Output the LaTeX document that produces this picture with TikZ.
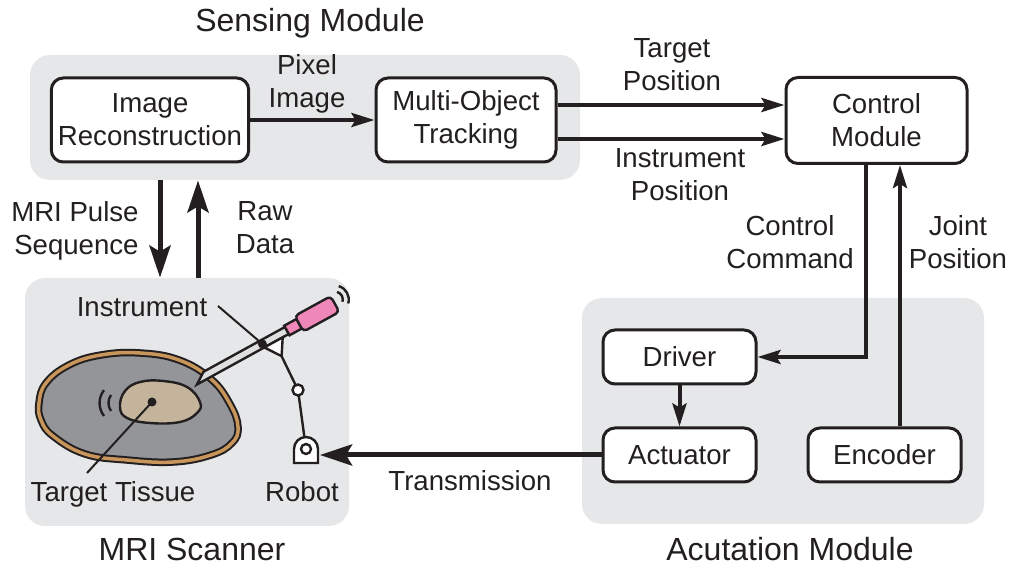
\documentclass[tikz,border=0pt]{standalone}
\usepackage{fontspec}
\setmainfont{Liberation Sans}
\usetikzlibrary{arrows.meta}

\definecolor{panelgray}{RGB}{230,231,232}
\definecolor{ink}{RGB}{35,31,32}
\definecolor{tissuegray}{RGB}{147,149,152}
\definecolor{skintan}{RGB}{200,150,90}
\definecolor{targettan}{RGB}{196,180,155}
\definecolor{handlepink}{RGB}{240,135,185}

\begin{document}
\begin{tikzpicture}[
    x=0.5pt, y=-0.5pt,
    panel/.style={rectangle, rounded corners=10pt, fill=panelgray, inner sep=0pt},
    box/.style={rectangle, rounded corners=6pt, draw=ink, line width=1.5pt, fill=white,
                align=center, text=ink, font=\fontsize{13.8}{16.5}\selectfont},
    module/.style={font=\fontsize{16}{19}\selectfont, text=ink, anchor=base, inner sep=0pt},
    lbl/.style={font=\fontsize{13.8}{16.5}\selectfont, text=ink, align=center, inner sep=0pt},
    arrow/.style={-{Stealth[length=11.5pt, width=7pt, inset=2pt]}, draw=ink, line width=2pt},
    bigarrow/.style={-{Stealth[length=16pt, width=10.5pt, inset=3pt]}, draw=ink, line width=2.5pt},
    leader/.style={draw=ink, line width=1pt},
    part/.style={draw=ink, line width=1.2pt}
]
\useasboundingbox (0,0) rectangle (1009,567);

% Module panels
\node[panel, minimum width=275pt, minimum height=62.5pt] (sens) at (305,117.5) {};
\node[panel, minimum width=162pt, minimum height=124pt] (mri) at (187,402) {};
\node[panel, minimum width=201pt, minimum height=113pt] (act) at (783,411) {};

% Module titles
\node[module] (senstitle) at (310,32) {Sensing Module};
\node[module] (mrititle) at (192,560) {MRI Scanner};
\node[module] (acttitle) at (790,560) {Acutation Module};

% Blocks
\node[box, minimum width=97pt, minimum height=42pt] (imgrec) at (150,120) {Image\\Reconstruction};
\node[box, minimum width=90pt, minimum height=42pt] (mot) at (466,120) {Multi-Object\\Tracking};
\node[box, minimum width=90.5pt, minimum height=43pt] (ctrl) at (876.5,120.5) {Control\\Module};
\node[box, minimum width=76.5pt, minimum height=27pt] (driver) at (679.5,357) {Driver};
\node[box, minimum width=76.5pt, minimum height=27pt] (actuator) at (679.5,455) {Actuator};
\node[box, minimum width=76.5pt, minimum height=27pt] (enc) at (884.5,455) {Encoder};

% Connector labels
\node[lbl] (pixlbl) at (307,84) {Pixel\\Image};
\node[lbl] (tgtlbl) at (672,65) {Target\\Position};
\node[lbl] (instlbl) at (680,175) {Instrument\\Position};
\node[lbl, align=right, anchor=east] (pulselbl) at (139,230.5) {MRI Pulse\\Sequence};
\node[lbl] (rawlbl) at (265,228) {Raw\\Data};
\node[lbl] (cmdlbl) at (790,242) {Control\\Command};
\node[lbl] (jointlbl) at (958,242) {Joint\\Position};
\node[lbl] (translbl) at (470,481) {Transmission};

% Connectors
\coordinate (tgt) at ([yshift=7.5pt]mot.east);
\coordinate (inst) at ([yshift=-9.5pt]mot.east);
\coordinate (pulse) at ([xshift=-13.5pt]mri.north);
\coordinate (raw) at ([xshift=5.5pt]mri.north);
\coordinate (cmd) at ([xshift=-5.25pt]ctrl.south);
\coordinate (joint) at ([xshift=7.75pt]enc.north);
\coordinate (robot) at (320,455);

\draw[arrow] (imgrec) -- (mot);
\draw[arrow] (tgt) -- (tgt -| ctrl.west);
\draw[arrow] (inst) -- (inst -| ctrl.west);
\draw[bigarrow] (pulse |- sens.south) -- (pulse);
\draw[bigarrow] (raw) -- (raw |- sens.south);
\draw[arrow] (cmd) |- (driver.east);
\draw[arrow] (joint) -- (joint |- ctrl.south);
\draw[arrow] (driver) -- (actuator);
\draw[bigarrow] (actuator.west) -- (robot);

% Tissue with target
\draw[draw=ink, line width=3.75pt, fill=tissuegray,
      postaction={draw=skintan, line width=1.75pt}]
    plot[smooth cycle, tension=0.7] coordinates {(39,403) (46,383) (69,365) (101,355) (140,353)
        (179,360) (211,379) (230,404) (238,427) (232,443) (211,455) (173,462) (127,460)
        (85,454) (53,436) (41,420)};
\filldraw[fill=targettan, part]
    plot[smooth cycle, tension=0.7] coordinates {(120,407) (125,391) (140,382) (163,381)
        (187,387) (200,402) (197,413) (180,422) (150,423) (127,418)};
\draw[part] (104,416) arc[start angle=142, end angle=218, radius=21];
\draw[part] (111,411) arc[start angle=145, end angle=215, radius=14];

% Instrument held by the robot arm
\coordinate (tip) at (195,381);
\begin{scope}[shift={(tip)}, x={(0.4375pt,0.2405pt)}, y={(0.2405pt,-0.4375pt)}]
    \filldraw[fill=gray!25, part] (12,-4) -- (105,-4) -- (105,4) -- (0,4) -- cycle;
    \filldraw[fill=handlepink, part] (105,-5.5) -- (119,-5.5) -- (119,5.5) -- (105,5.5) -- cycle;
    \filldraw[fill=handlepink, part, rounded corners=2pt]
        (119,-9) -- (160,-9) -- (160,9) -- (119,9) -- cycle;
    \draw[part] (162,-4) ++(-45:8) arc[start angle=-45, end angle=45, radius=8];
    \draw[part] (162,-4) ++(-45:14) arc[start angle=-45, end angle=45, radius=14];
    \filldraw[fill=white, part] (77,4) -- (98,4) -- (88,20) -- cycle;
    \coordinate (mount) at (88,20);
    \coordinate (instdot) at (77,0);
\end{scope}
\coordinate (elbow) at (298,390);
\coordinate (base) at (306,449);
\draw[part] (mount) -- (elbow) -- (base);
\filldraw[fill=white, part] (elbow) circle[radius=5.5];
\filldraw[fill=white, part] (294,463) -- (294,449) arc[start angle=180, end angle=360, radius=12]
    -- (318,463) -- cycle;
\filldraw[fill=white, part] (base) circle[radius=5];

% Part labels
\coordinate (target) at (152,402);
\coordinate (tisstail) at (87,473);
\coordinate (insttail) at (218,306);
\fill[ink] (target) circle[radius=4.5];
\fill[ink] (instdot) circle[radius=4.5];
\draw[leader] (target) -- (tisstail);
\draw[leader] (insttail) -- (instdot);
\node[lbl] (instname) at (142,307.5) {Instrument};
\node[lbl] (tissname) at (113,494) {Target Tissue};
\node[lbl] (robotname) at (302,492) {Robot};

\end{tikzpicture}
\end{document}
